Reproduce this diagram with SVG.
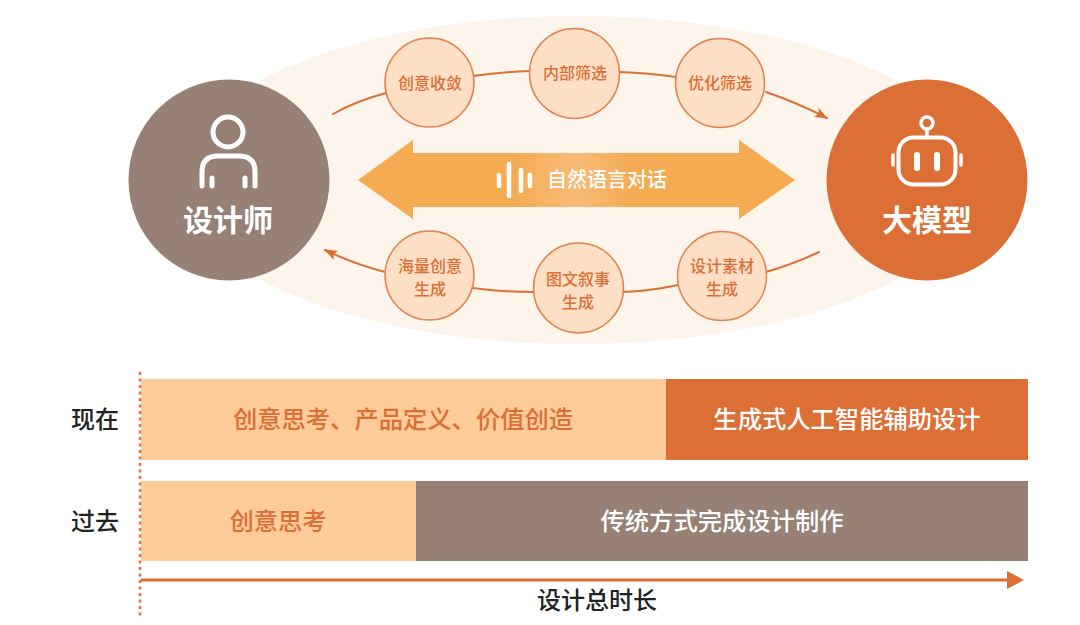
<svg xmlns="http://www.w3.org/2000/svg" width="1080" height="625" viewBox="0 0 1080 625">
<style>
text{font-family:"Noto Sans CJK SC","Liberation Sans",sans-serif;text-anchor:middle}
.bub{fill:#fcdfc5;stroke:#e3834f;stroke-width:1.500}
.bt{font-size:16px;fill:#dc6f36;font-weight:500}
.con{fill:none;stroke:#dc6f36;stroke-width:2;stroke-linecap:round}
.ic{fill:none;stroke:#fff;stroke-width:5;stroke-linecap:round;stroke-linejoin:round}
.big{font-size:30px;font-weight:700;fill:#fff}
.bar{font-size:24.300px;font-weight:500}
.lab{font-size:24px;font-weight:500;fill:#222}
</style>
<defs>
<marker id="ah" markerUnits="userSpaceOnUse" markerWidth="14" markerHeight="12" refX="12" refY="5" orient="auto"><path d="M0 0L13 5L0 10L2.500 5Z" fill="#dc6f36"/></marker>
<linearGradient id="g" x1="0" x2="1" y1="0" y2="0"><stop offset="0.35" stop-color="#f5ab52"/><stop offset="0.5" stop-color="#f6bb77"/><stop offset="0.63" stop-color="#f5ab52"/></linearGradient>
</defs>
<rect width="1080" height="625" fill="#fff"/>
<ellipse id="halo" cx="578" cy="180" rx="400" ry="164" fill="#fdf4eb"/>
<g id="connectors">
<path class="con" d="M333 114Q356 101 386 93"/>
<path class="con" d="M473 76Q500 72 530 71"/>
<path class="con" d="M619 72Q650 73 676 77"/>
<path class="con" d="M766 92Q798 103 827 118" marker-end="url(#ah)"/>
<path class="con" d="M819 252Q794 264 766 272"/>
<path class="con" d="M678 285Q650 291 623 292"/>
<path class="con" d="M534 292Q500 292 473 288"/>
<path class="con" d="M385 272Q354 264 325 250" marker-end="url(#ah)"/>
</g>
<g id="designer">
<circle cx="229" cy="180" r="100.500" fill="#968174"/>
<circle class="ic" cx="228" cy="132" r="15"/>
<path class="ic" d="M202 186V172Q202 156 218 156H239Q255 156 255 172V186"/>
<path class="ic" d="M212 178V186M245 178V186"/>
<text class="big" x="228" y="231">设计师</text>
</g>
<g id="model">
<circle cx="927" cy="180" r="100.500" fill="#dc6f36"/>
<circle cx="927" cy="123" r="6" fill="none" stroke="#fff" stroke-width="3.500"/>
<path class="ic" d="M927 129V137" style="stroke-width:3.500"/>
<rect class="ic" x="898.500" y="137.500" width="57" height="47" rx="15" style="stroke-width:4"/>
<path class="ic" d="M917 155V168M937 155V168" style="stroke-width:6"/>
<path class="ic" d="M893 155V165M961 155V165" style="stroke-width:3.500"/>
<text class="big" x="927" y="231">大模型</text>
</g>
<g id="dialog">
<path d="M358 180L413 140V153H739V140L795 180L739 219V207H413V219Z" fill="url(#g)"/>
<path class="ic" d="M499 175V186M509 164V196M521 170V191M530 175V186" style="stroke-width:4.500"/>
<text x="607" y="187" font-size="20" font-weight="500" fill="#fff">自然语言对话</text>
</g>
<g id="n1"><circle class="bub" cx="429.500" cy="82.500" r="44.500"/><text class="bt" x="430" y="89">创意收敛</text></g>
<g id="n2"><circle class="bub" cx="574.500" cy="73.500" r="45"/><text class="bt" x="575" y="79">内部筛选</text></g>
<g id="n3"><circle class="bub" cx="720" cy="83" r="44.500"/><text class="bt" x="720" y="89">优化筛选</text></g>
<g id="n4"><circle class="bub" cx="429.500" cy="275.500" r="44.500"/><text class="bt" x="430" y="272">海量创意</text><text class="bt" x="430" y="295">生成</text></g>
<g id="n5"><circle class="bub" cx="578.500" cy="288" r="45"/><text class="bt" x="578" y="285">图文叙事</text><text class="bt" x="578" y="308">生成</text></g>
<g id="n6"><circle class="bub" cx="722" cy="276" r="44.500"/><text class="bt" x="722" y="272">设计素材</text><text class="bt" x="722" y="295">生成</text></g>
<g id="now">
<rect x="141" y="379" width="525" height="81" fill="#fbcb98"/>
<rect x="666" y="379" width="362" height="81" fill="#dc6f36"/>
<text class="lab" x="95" y="428">现在</text>
<text class="bar" x="403" y="428" fill="#dc6f36">创意思考、产品定义、价值创造</text>
<text class="bar" x="847" y="428" fill="#fff">生成式人工智能辅助设计</text>
</g>
<g id="past">
<rect x="141" y="481" width="275" height="80" fill="#fbcb98"/>
<rect x="416" y="481" width="612" height="80" fill="#968174"/>
<text class="lab" x="95" y="530">过去</text>
<text class="bar" x="278" y="530" fill="#dc6f36">创意思考</text>
<text class="bar" x="722" y="530" fill="#fff">传统方式完成设计制作</text>
</g>
<g id="axis">
<path d="M140 372V618" fill="none" stroke="#e3743c" stroke-width="2.500" stroke-dasharray="3 3.500"/>
<path d="M141 580H1010" stroke="#dc6f36" stroke-width="3"/>
<path d="M1007 571L1024 580L1007 589Z" fill="#dc6f36"/>
<text x="597" y="609" font-size="24" font-weight="500" fill="#222">设计总时长</text>
</g>
</svg>
